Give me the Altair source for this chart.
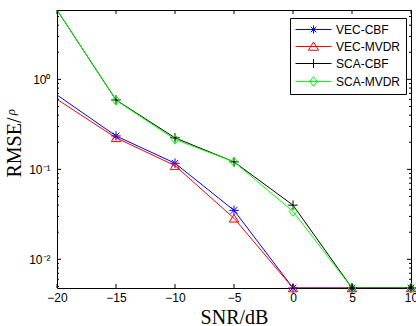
import altair as alt
import pandas as pd

# ---- data ----
snr = [-20, -15, -10, -5, 0, 5, 10]
vec_cbf = [0.67, 0.235, 0.117, 0.035, 0.0048, 0.0048, 0.0048]
vec_mvdr = [0.60, 0.224, 0.110, 0.0286, 0.0048, 0.0048, 0.0048]
sca_cbf = [5.9, 0.59, 0.224, 0.121, 0.040, 0.0048, 0.0048]
sca_mvdr = [5.9, 0.585, 0.215, 0.121, 0.034, 0.0048, 0.0048]

series_names = ["VEC-CBF", "VEC-MVDR", "SCA-CBF", "SCA-MVDR"]
series_colors = ["#0000ff", "#ff0000", "#000000", "#00ff00"]

x_ticks = [-20, -15, -10, -5, 0, 5, 10]
x_domain = [-20, 10]
y_major = [0.01, 0.1, 1]
y_major_labels = ["10⁻²", "10⁻¹", "10⁰"]
y_minor = [0.005, 0.006, 0.007, 0.008, 0.009,
           0.02, 0.03, 0.04, 0.05, 0.06, 0.07, 0.08, 0.09,
           0.2, 0.3, 0.4, 0.5, 0.6, 0.7, 0.8, 0.9,
           2, 3, 4, 5]
y_domain = [0.0048, 5.9]
x_title = "SNR/dB"
y_title = "RMSE/"
y_title_sup = ["ρ"]

W, H = 354, 278

# marker shapes (chart) and legend symbols (line + marker)
marker_paths = [
    "M-1,0H1M0,-1V1M-0.7,-0.7L0.7,0.7M-0.7,0.7L0.7,-0.7",
    "M0,-0.8L1,0.8L-1,0.8Z",
    "M-1,0H1M0,-1V1",
    "M0,-1L0.8,0L0,1L-0.8,0Z",
]
legend_paths = [
    "M-1,0H5M1.33,0H2.67M2,-0.67V0.67M1.53,-0.47L2.47,0.47M1.53,0.47L2.47,-0.47",
    "M-1,0H5M2,-0.75L2.85,0.62L1.15,0.62Z",
    "M-1,0H5M1.25,0H2.75M2,-0.75V0.75",
    "M-1,0H5M2,-0.8L2.62,0L2,0.8L1.38,0Z",
]

rows = []
for name, vals in zip(series_names, [vec_cbf, vec_mvdr, sca_cbf, sca_mvdr]):
    for s, v in zip(snr, vals):
        rows.append({"snr": s, "rmse": v, "series": name})
df = pd.DataFrame(rows)

xscale = alt.Scale(domain=x_domain, nice=False, zero=False)
yscale = alt.Scale(type="log", domain=y_domain, nice=False)

shape_expr = " : ".join(
    f"datum.value === '{n}' ? '{p}'" for n, p in zip(series_names, legend_paths)
) + " : 'circle'"

color_enc = alt.Color(
    "series:N",
    scale=alt.Scale(domain=series_names, range=series_colors),
    legend=alt.Legend(
        title=None, orient="none", legendX=233, legendY=8,
        padding=5, rowPadding=4, labelFont="Liberation Sans", labelFontSize=12,
        labelColor="black", labelOffset=28, symbolSize=144, symbolStrokeWidth=1,
        strokeColor="black", fillColor="white",
        symbolType=alt.ExprRef(expr=shape_expr),
        symbolFillColor="transparent",
        labelExpr="datum.label + '\u2003'",
    ),
)

label_expr = " : ".join(
    f"abs(datum.value - {v}) < {v * 0.01} ? '{lab}'" for v, lab in zip(y_major, y_major_labels)
) + " : ''"

x_axis = alt.Axis(
    values=x_ticks, title=x_title, titleFont="Liberation Serif", titleFontSize=20,
    titleFontWeight="normal", titleColor="black", titleBaseline="alphabetic", titleY=35,
    labelFont="Liberation Sans", labelFontSize=12, labelColor="black", labelPadding=4,
    ticks=False, domain=False, grid=False, labelFlush=False,
)
y_axis = alt.Axis(
    values=y_major, labelExpr=label_expr, title=y_title, titleFont="Liberation Serif",
    titleFontSize=20, titleFontWeight="normal", titleColor="black", titleAngle=270,
    titleX=-37, titleY=137, titleBaseline="alphabetic", titleAlign="center",
    labelFont="Liberation Sans", labelFontSize=12, labelColor="black", labelPadding=7,
    ticks=False, domain=False, grid=False, labelFlush=False,
)

lines = alt.Chart(df).mark_line(strokeWidth=1, clip=True).encode(
    x=alt.X("snr:Q", scale=xscale, axis=x_axis),
    y=alt.Y("rmse:Q", scale=yscale, axis=y_axis),
    color=color_enc,
)

point_layers = []
for name, col, path in zip(series_names, series_colors, marker_paths):
    point_layers.append(
        alt.Chart(df).transform_filter(
            f"datum.snr > -20 && datum.series === '{name}'"
        ).mark_point(
            filled=False, strokeWidth=1, size=90, opacity=1, shape=path, color=col
        ).encode(
            x=alt.X("snr:Q", scale=xscale, axis=x_axis),
            y=alt.Y("rmse:Q", scale=yscale, axis=y_axis),
        )
    )

xt = pd.DataFrame({"snr": x_ticks})
ymaj = pd.DataFrame({"rmse": y_major})
ymin = pd.DataFrame({"rmse": y_minor})

def xtick(y0, y1):
    return alt.Chart(xt).mark_rule(color="black", strokeWidth=1).encode(
        x=alt.X("snr:Q", scale=xscale, axis=x_axis), y=alt.value(y0), y2=alt.value(y1))

def ytick(data, x0, x1):
    return alt.Chart(data).mark_rule(color="black", strokeWidth=1).encode(
        y=alt.Y("rmse:Q", scale=yscale, axis=y_axis), x=alt.value(x0), x2=alt.value(x1))

ticks = [
    xtick(H, H - 4), xtick(0, 4),
    ytick(ymaj, 0, 4), ytick(ymaj, W, W - 4),
    ytick(ymin, 0, 2), ytick(ymin, W, W - 2),
]

sup = alt.Chart(pd.DataFrame({"t": y_title_sup})).mark_text(
    angle=270, font="Liberation Serif", fontStyle="italic", fontSize=13,
    align="center", baseline="middle", color="black"
).encode(x=alt.value(-46), y=alt.value(102), text="t:N")

chart = alt.layer(lines, *point_layers, *ticks, sup).properties(
    width=W, height=H,
    autosize=alt.AutoSizeParams(type="none"),
    padding={"left": 57, "top": 10, "right": 5, "bottom": 38},
    background="white",
).configure_view(stroke="black", strokeWidth=1)

chart.save("out.html", embed_options={"renderer": "svg", "actions": False})
